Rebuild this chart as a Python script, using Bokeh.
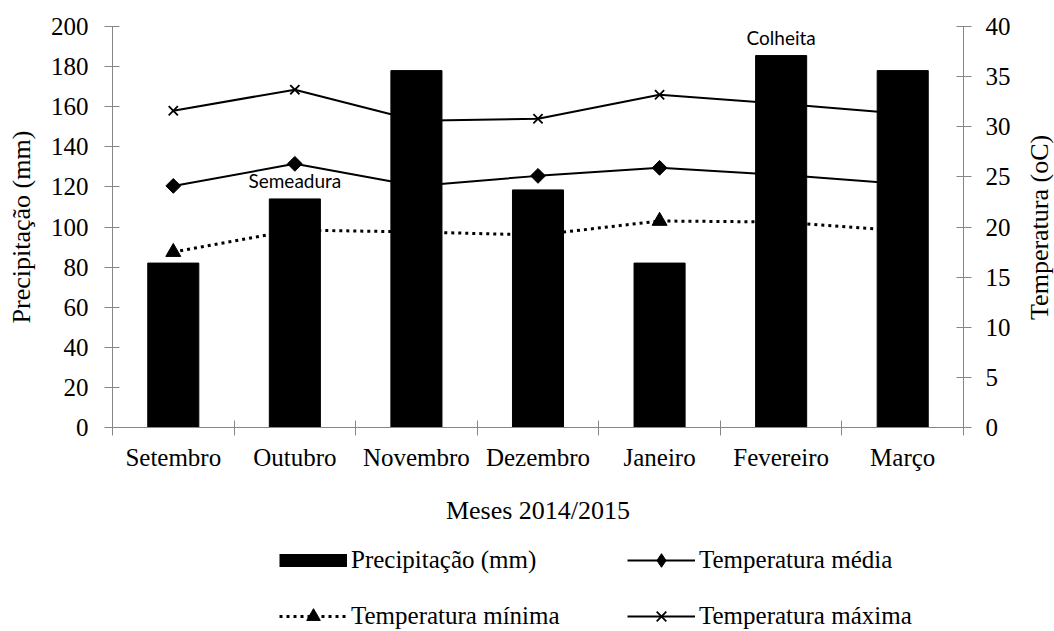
import math
from bokeh.plotting import figure
from bokeh.layouts import column, row
from bokeh.models import (Range1d, LinearAxis, FixedTicker, SingleIntervalTicker,
                          Legend, LegendItem, ColumnDataSource, Label)
from bokeh.core.properties import value
from bokeh.embed import file_html
from bokeh.resources import INLINE

# ---- data ----
months = ["Setembro", "Outubro", "Novembro", "Dezembro", "Janeiro", "Fevereiro", "Março"]
precip = [82, 114, 178, 118.5, 82, 185.5, 178]          # Precipitação (mm)
t_mean = [24.1, 26.3, 24.1, 25.1, 25.9, 25.2, 24.3]     # Temperatura média
t_min = [17.5, 19.7, 19.5, 19.2, 20.6, 20.5, 19.6]      # Temperatura mínima
t_max = [31.6, 33.7, 30.6, 30.8, 33.2, 32.3, 31.3]      # Temperatura máxima
ann_month = ["Outubro", "Fevereiro"]
ann_text = ["Semeadura", "Colheita"]
legend_labels = ["Precipitação (mm)", "Temperatura média",
                 "Temperatura mínima", "Temperatura máxima"]

SERIF = "Liberation Serif"
AXIS_COLOR = "#868686"
W_MAIN, H_MAIN = 1013, 527
W_RIGHT = 41
H_LEG = 104

xs = list(range(len(months)))
src = ColumnDataSource(dict(x=xs, month=months, precip=precip,
                            tmean=t_mean, tmin=t_min, tmax=t_max))
ann_x = [months.index(m) for m in ann_month]
ann_src = ColumnDataSource(dict(x=ann_x, y=[precip[i] for i in ann_x], text=ann_text))

# series styles (shared by plot and legend)
STY_MAX_L = dict(line_color="black", line_width=2)
STY_MAX_M = dict(marker="x", size=13, line_color="black", line_width=1.8)
STY_MEAN_L = dict(line_color="black", line_width=2)
STY_MEAN_M = dict(marker="square", angle=math.pi / 4, size=10.5,
                  fill_color="black", line_color="black")
STY_MIN_L = dict(line_color="black", line_width=3, line_dash="3 4")
STY_MIN_M = dict(marker="triangle", size=15, fill_color="black", line_color="black")

p = figure(width=W_MAIN, height=H_MAIN,
           x_range=Range1d(-0.5, len(months) - 0.5), y_range=Range1d(0, 200),
           x_axis_type=None, y_axis_type=None,
           output_backend="svg", toolbar_location=None,
           min_border_left=112, min_border_top=26, min_border_right=47, min_border_bottom=100)
p.extra_y_ranges = {"temp": Range1d(0, 40)}
p.outline_line_color = None

# ---- temperature lines (drawn first, bars cover them) ----
p.line("x", "tmax", source=src, y_range_name="temp", **STY_MAX_L)
p.scatter("x", "tmax", source=src, y_range_name="temp", **STY_MAX_M)
p.line("x", "tmean", source=src, y_range_name="temp", **STY_MEAN_L)
p.scatter("x", "tmean", source=src, y_range_name="temp", **STY_MEAN_M)
p.line("x", "tmin", source=src, y_range_name="temp", **STY_MIN_L)
p.scatter("x", "tmin", source=src, y_range_name="temp", **STY_MIN_M)

# ---- precipitation bars ----
p.vbar(x="x", top="precip", width=0.42, source=src, fill_color="black", line_color="black")

# ---- annotations above the bars ----
p.text(x="x", y="y", text="text", source=ann_src, text_font=value("Lato"),
       text_font_size="19px", text_align="center", text_baseline="middle",
       y_offset=-18, text_color="black")

# ---- axes ----
xaxis = LinearAxis(
    ticker=FixedTicker(ticks=xs, minor_ticks=[i - 0.5 for i in range(len(months) + 1)]),
    major_label_overrides={i: m for i, m in enumerate(months)},
    major_tick_in=0, major_tick_out=0, minor_tick_in=7, minor_tick_out=8,
    axis_label="Meses 2014/2015", axis_label_standoff=22, major_label_standoff=8)
yleft = LinearAxis(ticker=SingleIntervalTicker(interval=20, num_minor_ticks=0),
                   axis_label="Precipitação (mm)", major_tick_in=7, major_tick_out=8,
                   major_label_standoff=16, axis_label_standoff=12)
yright = LinearAxis(y_range_name="temp", ticker=SingleIntervalTicker(interval=5, num_minor_ticks=0),
                    major_tick_in=7, major_tick_out=8, major_label_standoff=14)
for ax in (xaxis, yleft, yright):
    ax.axis_line_color = AXIS_COLOR
    ax.major_tick_line_color = AXIS_COLOR
    ax.minor_tick_line_color = AXIS_COLOR
    ax.major_label_text_font = SERIF
    ax.major_label_text_font_size = "25px"
    ax.major_label_text_color = "black"
    ax.axis_label_text_font = SERIF
    ax.axis_label_text_font_size = "26px"
    ax.axis_label_text_font_style = "normal"
    ax.axis_label_text_color = "black"
yleft.minor_tick_line_color = None
yright.minor_tick_line_color = None

p.add_layout(yleft, "left")
p.add_layout(yright, "right")
p.add_layout(xaxis, "below")

# ---- right axis title strip (text reads bottom-to-top) ----
pr = figure(width=W_RIGHT, height=H_MAIN, x_range=Range1d(0, W_RIGHT), y_range=Range1d(0, H_MAIN),
            x_axis_type=None, y_axis_type=None, output_backend="svg", toolbar_location=None,
            min_border=0)
pr.outline_line_color = None
pr.add_layout(Label(x=26, y=H_MAIN - 264, text="Temperatura (oC)", angle=90, angle_units="deg",
                    text_align="center", text_baseline="middle",
                    text_font=SERIF, text_font_size="26px", text_color="black"))

# ---- legend strip (legend glyphs come from the same series, kept outside this strip's view) ----
pl = figure(width=W_MAIN + W_RIGHT, height=H_LEG, x_range=Range1d(0, 1), y_range=Range1d(0, 1),
            x_axis_type=None, y_axis_type=None, output_backend="svg", toolbar_location=None,
            min_border=0)
pl.outline_line_color = None
lg_bar = pl.line("x", "precip", source=src, line_color="black", line_width=13)
lg_mean = [pl.line("x", "tmean", source=src, **STY_MEAN_L),
           pl.scatter("x", "tmean", source=src, marker="diamond",
                      fill_color="black", line_color="black")]
lg_min = [pl.line("x", "tmin", source=src, **STY_MIN_L),
          pl.scatter("x", "tmin", source=src, **STY_MIN_M)]
lg_max = [pl.line("x", "tmax", source=src, **STY_MAX_L),
          pl.scatter("x", "tmax", source=src, **STY_MAX_M)]

legend = Legend(items=[
    LegendItem(label=legend_labels[0], renderers=[lg_bar]),
    LegendItem(label=legend_labels[1], renderers=lg_mean),
    LegendItem(label=legend_labels[2], renderers=lg_min),
    LegendItem(label=legend_labels[3], renderers=lg_max),
], orientation="horizontal", ncols=2, location=(279, -2),
    glyph_width=68, glyph_height=34, label_standoff=4, label_width=254,
    spacing=22, padding=0, margin=0,
    label_text_font=SERIF, label_text_font_size="25px", label_text_color="black",
    border_line_color=None, background_fill_alpha=0)
pl.add_layout(legend, "center")

layout = column(row(p, pr), pl)
open("out.html", "w").write(file_html(layout, INLINE))
